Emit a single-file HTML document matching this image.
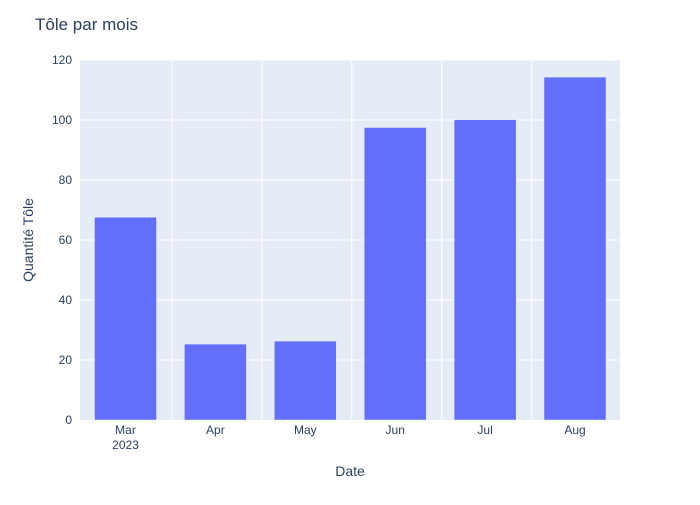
<!DOCTYPE html>
<html><head><meta charset="utf-8"><style>
body{margin:0;background:#fff;font-family:"Liberation Sans",Arial,sans-serif}
svg text{font-family:"Liberation Sans",Arial,sans-serif}
</style></head><body>
<svg id="chart" width="700" height="500">
<rect x="0" y="0" width="700" height="500" fill="#fff"/>
<text x="35" y="30" font-size="17" fill="#2a3f5f">Tôle par mois</text>
<rect x="80" y="60" width="540" height="360" fill="#e5ecf6"/>
<g id="grid"></g><g id="bars"></g><g id="ticks"></g>
<text x="350" y="476" font-size="14" fill="#2a3f5f" text-anchor="middle">Date</text>
<text transform="translate(33,240) rotate(-90)" font-size="14" fill="#2a3f5f" text-anchor="middle">Quantité Tôle</text>
</svg>
<script>
const categories=["Mar","Apr","May","Jun","Jul","Aug"];
const values=[67.6,25.3,26.3,97.5,100.1,114.3];
const yTicks=[0,20,40,60,80,100,120];
const NS="http://www.w3.org/2000/svg";
const x0=80,x1=620,y0=420,y1=60,yMax=120;
const step=89.9,first=125.5,bw=62;
const xs=i=>first+i*step;
const ys=v=>y0-(v/yMax)*(y0-y1);
function mk(tag,attrs,parent,txt){const e=document.createElementNS(NS,tag);for(const k in attrs)e.setAttribute(k,attrs[k]);if(txt!==undefined)e.textContent=txt;document.getElementById(parent).appendChild(e);return e;}
yTicks.forEach(t=>{
 if(t>0){const l=mk('line',{x1:x0,x2:x1,y1:ys(t),y2:ys(t),stroke:'#fff','stroke-width':1},'grid');
 
 }
 const tx=mk('text',{x:72,y:ys(t)+4,'font-size':12,fill:'#2a3f5f','text-anchor':'end'},'ticks',t);
 
 
});
for(let i=0;i<categories.length-1;i++){
 const gx=xs(i)+46.5;
 const l=mk('line',{x1:gx,x2:gx,y1:y1,y2:y0,stroke:'#fff','stroke-width':1},'grid');
 
 
}
categories.forEach((c,i)=>{
 const r=mk('rect',{x:xs(i)-bw/2,y:ys(values[i]),width:bw,height:y0-ys(values[i]),fill:'#636efa',stroke:'#e5ecf6','stroke-width':0.5},'bars');
 
 
 const t=mk('text',{x:xs(i),y:434,'font-size':12,fill:'#2a3f5f','text-anchor':'middle'},'ticks',c);
 
 
 if(i===0){const y=mk('text',{x:xs(i),y:449,'font-size':12,fill:'#2a3f5f','text-anchor':'middle'},'ticks','2023');
 
 }
});
</script>
</body></html>
